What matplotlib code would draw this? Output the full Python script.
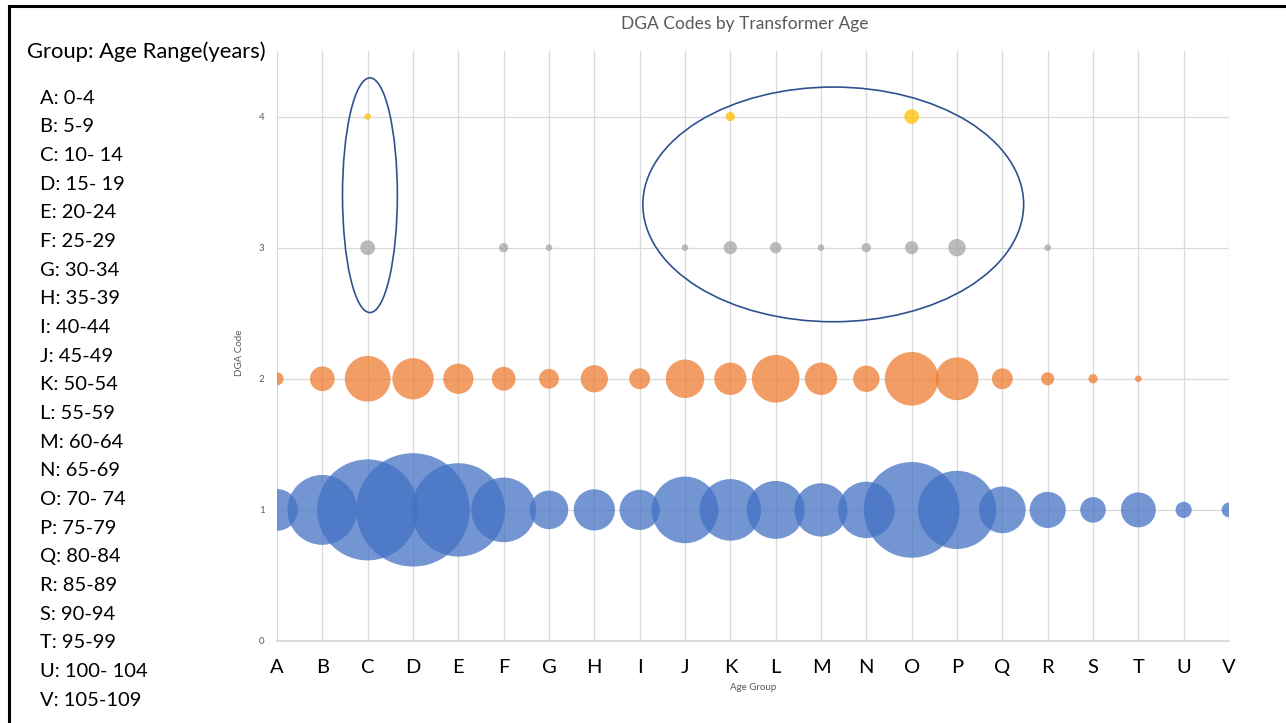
import numpy as np
import matplotlib
matplotlib.use('Agg')
import matplotlib.pyplot as plt
from matplotlib.patches import Ellipse
from matplotlib.lines import Line2D

plt.rcParams['font.family'] = ['Lato', 'DejaVu Sans']

# --------------------------------------------------------------------------- #
groups = list('ABCDEFGHIJKLMNOPQRSTUV')
age_ranges = ['0-4', '5-9', '10- 14', '15- 19', '20-24', '25-29', '30-34', '35-39',
              '40-44', '45-49', '50-54', '55-59', '60-64', '65-69', '70- 74', '75-79',
              '80-84', '85-89', '90-94', '95-99', '100- 104', '105-109']

# number of transformers per age group for each DGA code (bubble size)
code1 = [40, 112, 234, 295, 200, 96, 34, 39, 37, 102, 87, 77, 65, 73, 210, 140, 50, 30, 15, 28, 6, 5]
code2 = [4, 14, 48, 39, 21, 13, 9, 17, 10, 34, 24, 52, 24, 16, 66, 42, 10, 4, 2, 1, 0, 0]
code3 = [0, 0, 5, 0, 0, 2, 1, 0, 0, 1, 4, 3, 1, 2, 4, 7, 0, 1, 0, 0, 0, 0]
code4 = [0, 0, 1, 0, 0, 0, 0, 0, 0, 0, 2, 0, 0, 0, 5, 0, 0, 0, 0, 0, 0, 0]

series = [(1, code1, '#4472C4'), (2, code2, '#ED7D31'), (3, code3, '#A5A5A5'), (4, code4, '#FFC000')]
scale = 22.6   # points^2 per transformer

# --------------------------------------------------------------------------- #
fig = plt.figure(figsize=(12.86, 7.23), dpi=100)
ax = fig.add_axes([277/1286, 1 - 641/723, (1229 - 277)/1286, (641 - 51)/723])

x = np.arange(len(groups))
for code, vals, col in series:
    v = np.array(vals, dtype=float)
    m = v > 0
    ax.scatter(x[m], np.full(m.sum(), code), s=v[m] * scale, color=col,
               alpha=0.75, linewidths=0, zorder=3)

ax.set_xlim(0, len(groups) - 1)
ax.set_ylim(0, 4.5)
ax.set_xticks(x)
ax.set_xticklabels(groups, fontsize=14.5, color='black')
ax.set_yticks([0, 1, 2, 3, 4])
ax.set_yticklabels(['0', '1', '2', '3', '4'], fontsize=7, color='#595959')
ax.tick_params(axis='x', length=0, pad=13)
ax.tick_params(axis='y', length=0, pad=9)
ax.grid(True, color='#D9D9D9', lw=0.9, zorder=0)
ax.set_axisbelow(True)
for s in ['top', 'right', 'left']:
    ax.spines[s].set_visible(False)
ax.spines['bottom'].set_color('#D9D9D9')
ax.spines['bottom'].set_linewidth(1.3)

# highlight rings
for cx, cy, w, h in [(2.05, 3.40, 1.21, 1.79), (12.27, 3.33, 8.4, 1.79)]:
    ax.add_patch(Ellipse((cx, cy), w, h, fill=False, edgecolor='#2F528F', lw=1.2,
                         zorder=5, clip_on=False))

fig.text(745/1286, 1 - 24/723, 'DGA Codes by Transformer Age', ha='center', va='center',
         fontsize=12.5, color='#595959')
fig.text(753/1286, 1 - 687/723, 'Age Group', ha='center', va='center', fontsize=7, color='#595959')
fig.text(240/1286, 1 - 353/723, 'DGA Code', ha='center', va='center', rotation=90,
         fontsize=7, color='#595959')

# age range key
fig.text(27/1286, 1 - 52/723, 'Group: Age Range(years)', ha='left', va='center', fontsize=15.8)
for i, (g, r) in enumerate(zip(groups, age_ranges)):
    fig.text(40/1286, 1 - (98 + i * 28.67)/723, f'{g}: {r}', ha='left', va='center', fontsize=14.5)

# frame (top and left edge)
fig.add_artist(Line2D([9/1286, 1], [1 - 6/723, 1 - 6/723], color='black', lw=2.2, transform=fig.transFigure))
fig.add_artist(Line2D([9/1286, 9/1286], [1 - 6/723, 0], color='black', lw=2.2, transform=fig.transFigure))

fig.savefig('out.png', dpi=100)
